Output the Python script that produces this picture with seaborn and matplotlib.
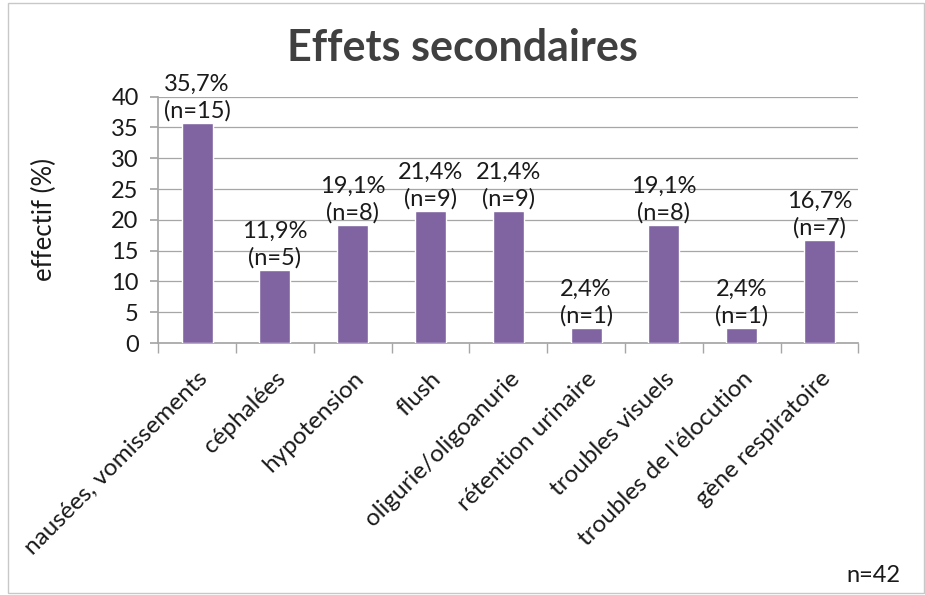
import matplotlib
matplotlib.use("Agg")
import matplotlib.pyplot as plt
import seaborn as sns
import pandas as pd
import numpy as np

categories = ["nausées, vomissements", "céphalées", "hypotension", "flush",
              "oligurie/oligoanurie", "rétention urinaire", "troubles visuels",
              "troubles de l'élocution", "gène respiratoire"]
pct_values = [35.7, 11.9, 19.1, 21.4, 21.4, 2.4, 19.1, 2.4, 16.7]
n_values = [15, 5, 8, 9, 9, 1, 8, 1, 7]
y_ticks = [0, 5, 10, 15, 20, 25, 30, 35, 40]
total_n = 42

bar_color = "#8064A2"
grid_color = "#a6a6a6"
text_color = "#1a1a1a"

sns.set_theme(style="white")
plt.rcParams['font.family'] = ['Lato', 'DejaVu Sans']

df = pd.DataFrame({"effet": categories, "pct": pct_values, "n": n_values})

fig = plt.figure(figsize=(9.25, 5.95), dpi=100)
ax = fig.add_axes([0.171, 0.4235, 0.757, 0.414])

sns.barplot(data=df, x="effet", y="pct", color=bar_color, width=0.4,
            saturation=1, ax=ax, zorder=3)

ax.set_ylim(0, 40)
ax.set_yticks(y_ticks)
ax.set_xlim(-0.5, len(categories) - 0.5)
ax.yaxis.grid(True, color=grid_color, linewidth=0.9, zorder=0)
ax.set_axisbelow(True)

for side in ["top", "right"]:
    ax.spines[side].set_visible(False)
ax.spines["left"].set_color(grid_color)
ax.spines["bottom"].set_color(grid_color)

# Excel-style ticks between categories
ax.set_xticks(np.arange(-0.5, len(categories) + 0.5, 1), minor=True)
ax.tick_params(axis="x", which="minor", length=7, color=grid_color, direction="out", bottom=True)
ax.tick_params(axis="x", which="major", length=0, pad=18)
ax.tick_params(axis="y", length=6, color=grid_color, direction="out", left=True, pad=8)

ax.set_xticks(range(len(categories)))
ax.set_xticklabels(categories, rotation=45, ha="right", rotation_mode="anchor",
                   fontsize=17.5, color=text_color)
for lab in ax.get_yticklabels():
    lab.set_fontsize(17)
    lab.set_color(text_color)

ax.set_xlabel("")
ax.set_ylabel("effectif (%)", fontsize=18.5, color=text_color)
ax.yaxis.set_label_coords(-0.145, 0.5)

for i, (p, n) in enumerate(zip(pct_values, n_values)):
    label = f"{p:.1f}".replace(".", ",") + f"%\n(n={n})"
    ax.annotate(label, (i, p), xytext=(0, 1), textcoords="offset points",
                ha="center", va="bottom", fontsize=17, color=text_color,
                linespacing=1.3, annotation_clip=False)

fig.text(0.5, 0.92, "Effets secondaires", ha="center", va="center",
         fontsize=31, fontweight="bold", color="#404040")
fig.text(0.973, 0.033, f"n={total_n}", ha="right", va="center",
         fontsize=17, color=text_color)

# light border around the chart area
border = plt.Rectangle((0.009, 0.003), 0.99, 0.992, transform=fig.transFigure,
                       fill=False, edgecolor="#c8c8c8", linewidth=1)
fig.patches.append(border)

fig.savefig("out.png", dpi=100)
